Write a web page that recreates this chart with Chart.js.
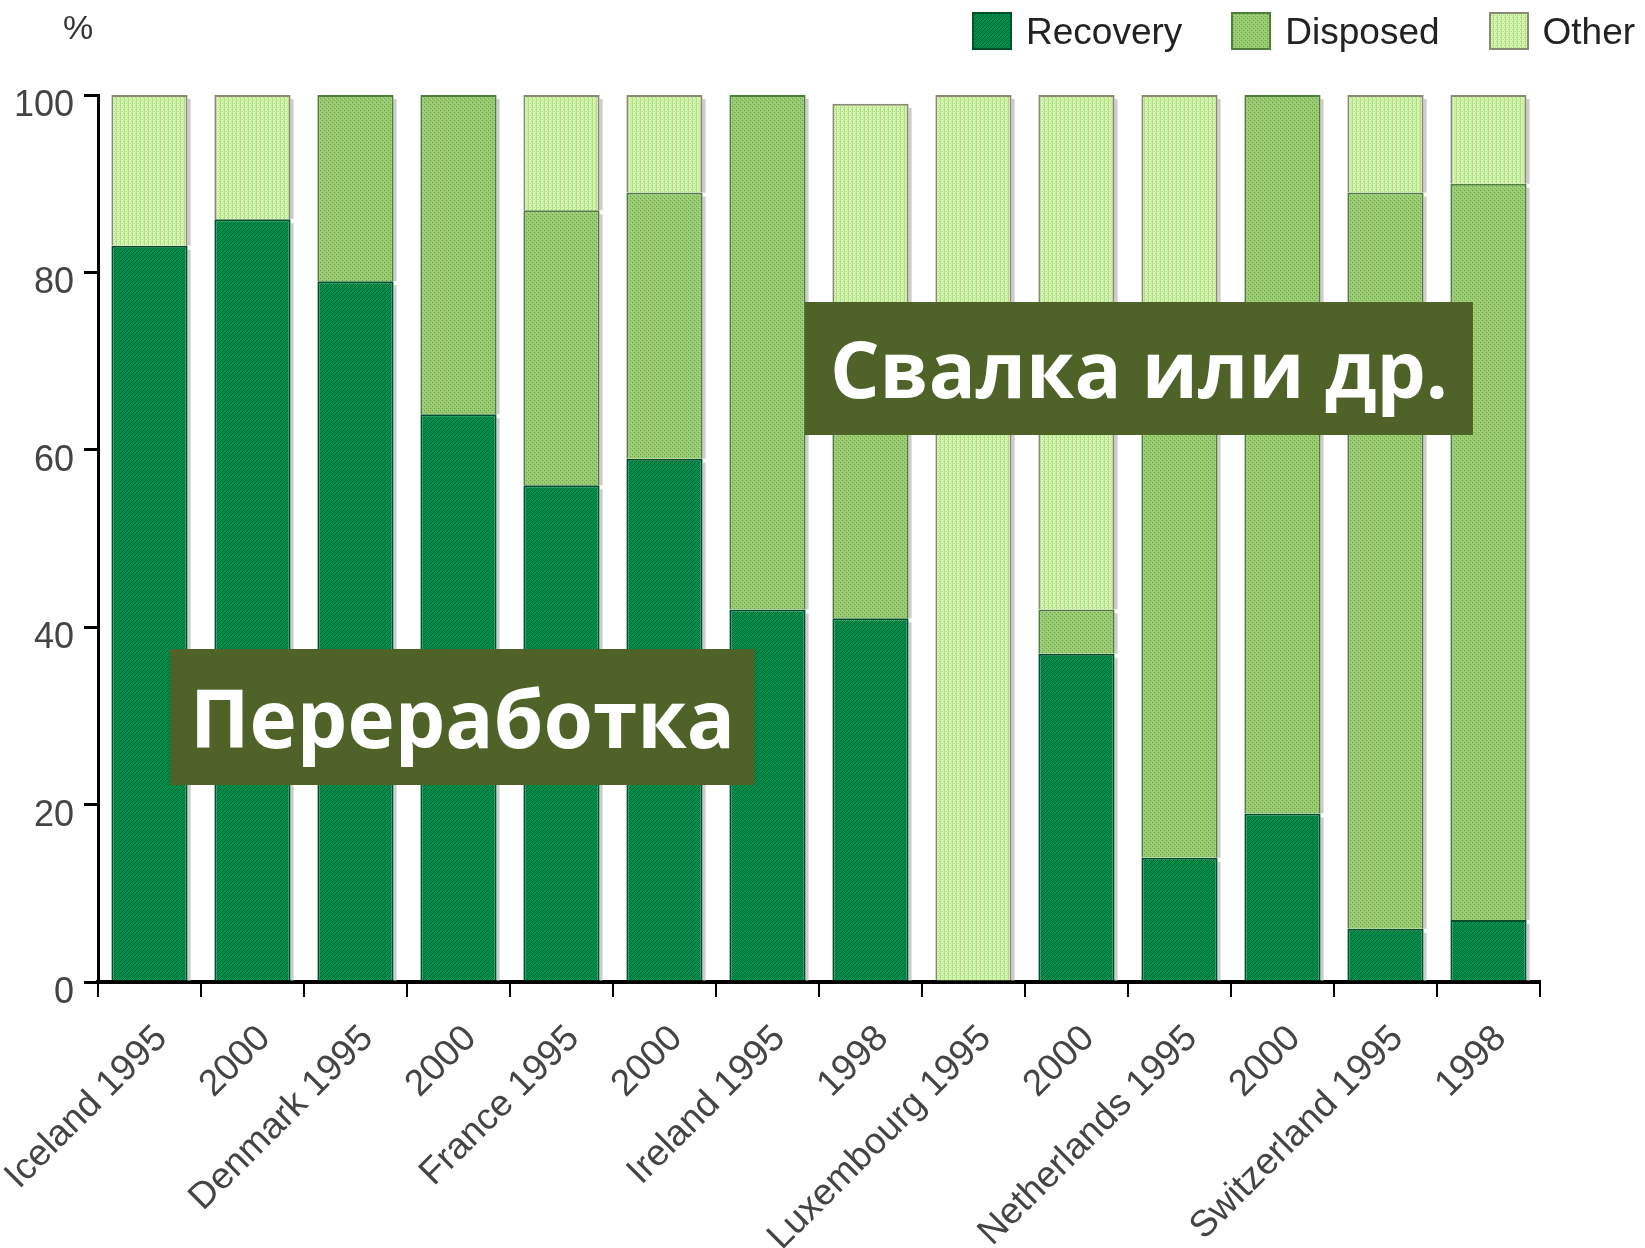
<!DOCTYPE html>
<html>
<head>
<meta charset="utf-8">
<script src="https://cdn.jsdelivr.net/npm/chart.js@4.4.1/dist/chart.umd.min.js"></script>
<style>
  html, body { margin: 0; padding: 0; background: #fff; }
  #wrap { position: relative; width: 1645px; height: 1248px; overflow: hidden; }
  #chart { position: absolute; left: 0; top: 0; }
  .note {
    position: absolute; background: #4f6228; color: #fff;
    font-family: "Open Sans", sans-serif; font-weight: 700;
    text-align: center; white-space: nowrap;
  }
  #pct { position: absolute; left: 63px; top: 8px; font: 34px "Liberation Sans", Arial, sans-serif; color: #333; }
  #legend { position: absolute; left: 972px; top: 12px; display: flex; gap: 49px; white-space: nowrap; }
  #legend .item { display: flex; align-items: flex-start; }
  #legend canvas { width: 40px; height: 38px; margin-right: 14px; }
  #legend span { font: 37px/40px "Liberation Sans", Arial, sans-serif; color: #222; }
</style>
</head>
<body>
<div id="wrap">
  <canvas id="chart" width="1645" height="1248"></canvas>
  <div id="pct">%</div>
  <div id="legend"></div>
  <div class="note" style="left:170px; top:649px; width:585px; height:136px; line-height:136px; font-size:80px;">Переработка</div>
  <div class="note" style="left:805px; top:302px; width:668px; height:133px; line-height:133px; font-size:78px;">Свалка или др.</div>
</div>
<script>
var categories = ['Iceland 1995', '2000', 'Denmark 1995', '2000', 'France 1995', '2000',
    'Ireland 1995', '1998', 'Luxembourg 1995', '2000', 'Netherlands 1995', '2000',
    'Switzerland 1995', '1998'];
var seriesNames = ['Recovery', 'Disposed', 'Other'];
var recovery = [83, 86, 79, 64, 56, 59, 42, 41, 0, 37, 14, 19, 6, 7];
var disposed = [0, 0, 21, 36, 31, 30, 58, 29, 0, 5, 56, 81, 83, 83];
var other = [17, 14, 0, 0, 13, 11, 0, 29, 100, 58, 30, 0, 11, 10];
var yTicks = [0, 20, 40, 60, 80, 100];

// dithered fills, like the old gif
function dither(rows) {
    var c = document.createElement('canvas');
    c.width = rows[0].length; c.height = rows.length;
    var g = c.getContext('2d');
    rows.forEach(function (row, y) {
        row.forEach(function (col, x) { g.fillStyle = col; g.fillRect(x, y, 1, 1); });
    });
    return c;
}
var G = '#009a40', D = '#005e30', T = '#007f62';
var recTile = dither([[G, D, G, T], [D, G, T, G], [G, T, G, D], [T, G, D, G]]);
var B = '#99cc66', S = '#66996a', L = '#a3d49a';
var disTile = dither([[B, B, S, B], [B, L, B, B], [S, B, B, B], [B, B, B, L]]);
var Y = '#ccff99', N = '#cccc99', M = '#ccffcc', Q = '#a8d8a0';
var othTile = dither([[N, Y, M, Y], [N, Y, Y, Q], [N, M, Y, Y], [N, Y, Q, Y]]);

var ctx = document.getElementById('chart').getContext('2d');
var fills = [ctx.createPattern(recTile, 'repeat'), ctx.createPattern(disTile, 'repeat'), ctx.createPattern(othTile, 'repeat')];
var edges = ['#00502a', '#4f7d3c', '#8a8a72'];
var tiles = [recTile, disTile, othTile];

// legend
var legend = document.getElementById('legend');
seriesNames.forEach(function (name, i) {
    var item = document.createElement('div');
    item.className = 'item';
    var sw = document.createElement('canvas');
    sw.width = 40; sw.height = 38;
    var g = sw.getContext('2d');
    g.fillStyle = g.createPattern(tiles[i], 'repeat');
    g.fillRect(0, 0, 40, 38);
    g.strokeStyle = edges[i]; g.lineWidth = 2;
    g.strokeRect(1, 1, 38, 36);
    var t = document.createElement('span');
    t.textContent = name;
    item.appendChild(sw); item.appendChild(t);
    legend.appendChild(item);
});

var shadow = {
    id: 'shadow',
    beforeDatasetsDraw: function (chart) {
        var c = chart.ctx;
        c.save();
        c.fillStyle = '#cdcdcd';
        chart.data.datasets.forEach(function (ds, i) {
            chart.getDatasetMeta(i).data.forEach(function (bar) {
                var p = bar.getProps(['x', 'y', 'base', 'width'], true);
                var h = p.base - p.y;
                if (h > 5) c.fillRect(p.x + p.width / 2, p.y + 4, 3, h - 4);
            });
        });
        c.restore();
    }
};

var tickFont = { family: '"Liberation Sans", Arial, sans-serif', size: 36 };

new Chart(ctx, {
    type: 'bar',
    data: {
        labels: categories,
        datasets: [
            { label: seriesNames[0], data: recovery, backgroundColor: fills[0], borderColor: edges[0] },
            { label: seriesNames[1], data: disposed, backgroundColor: fills[1], borderColor: edges[1] },
            { label: seriesNames[2], data: other, backgroundColor: fills[2], borderColor: edges[2] }
        ]
    },
    options: {
        responsive: false,
        animation: false,
        layout: { padding: { top: 95, right: 105, left: 0, bottom: 0 } },
        datasets: {
            bar: { barPercentage: 0.74, categoryPercentage: 1, borderWidth: { top: 2, left: 2, right: 2, bottom: 0 } }
        },
        plugins: { legend: { display: false }, tooltip: { enabled: false } },
        scales: {
            x: {
                stacked: true,
                afterFit: function (s) { s.height = 266; s.paddingLeft = 0; s.paddingRight = 0; },
                border: { display: true, color: '#000', width: 4 },
                grid: { display: true, drawOnChartArea: false, drawTicks: true, tickLength: 15, color: '#000', lineWidth: 2, offset: true },
                ticks: { autoSkip: false, minRotation: 45, maxRotation: 45, padding: 20, labelOffset: 12, color: '#444',
                    font: { family: '"Liberation Sans", Arial, sans-serif', size: 37 } }
            },
            y: {
                stacked: true,
                min: 0, max: 100,
                afterFit: function (s) { s.width = 98; },
                afterBuildTicks: function (s) { s.ticks = yTicks.map(function (v) { return { value: v }; }); },
                border: { display: true, color: '#000', width: 3 },
                grid: { display: true, drawOnChartArea: false, drawTicks: true, tickLength: 14, color: '#000', lineWidth: 3 },
                ticks: { padding: 10, labelOffset: 11, color: '#444', font: tickFont }
            }
        }
    },
    plugins: [shadow]
});
</script>
</body>
</html>
